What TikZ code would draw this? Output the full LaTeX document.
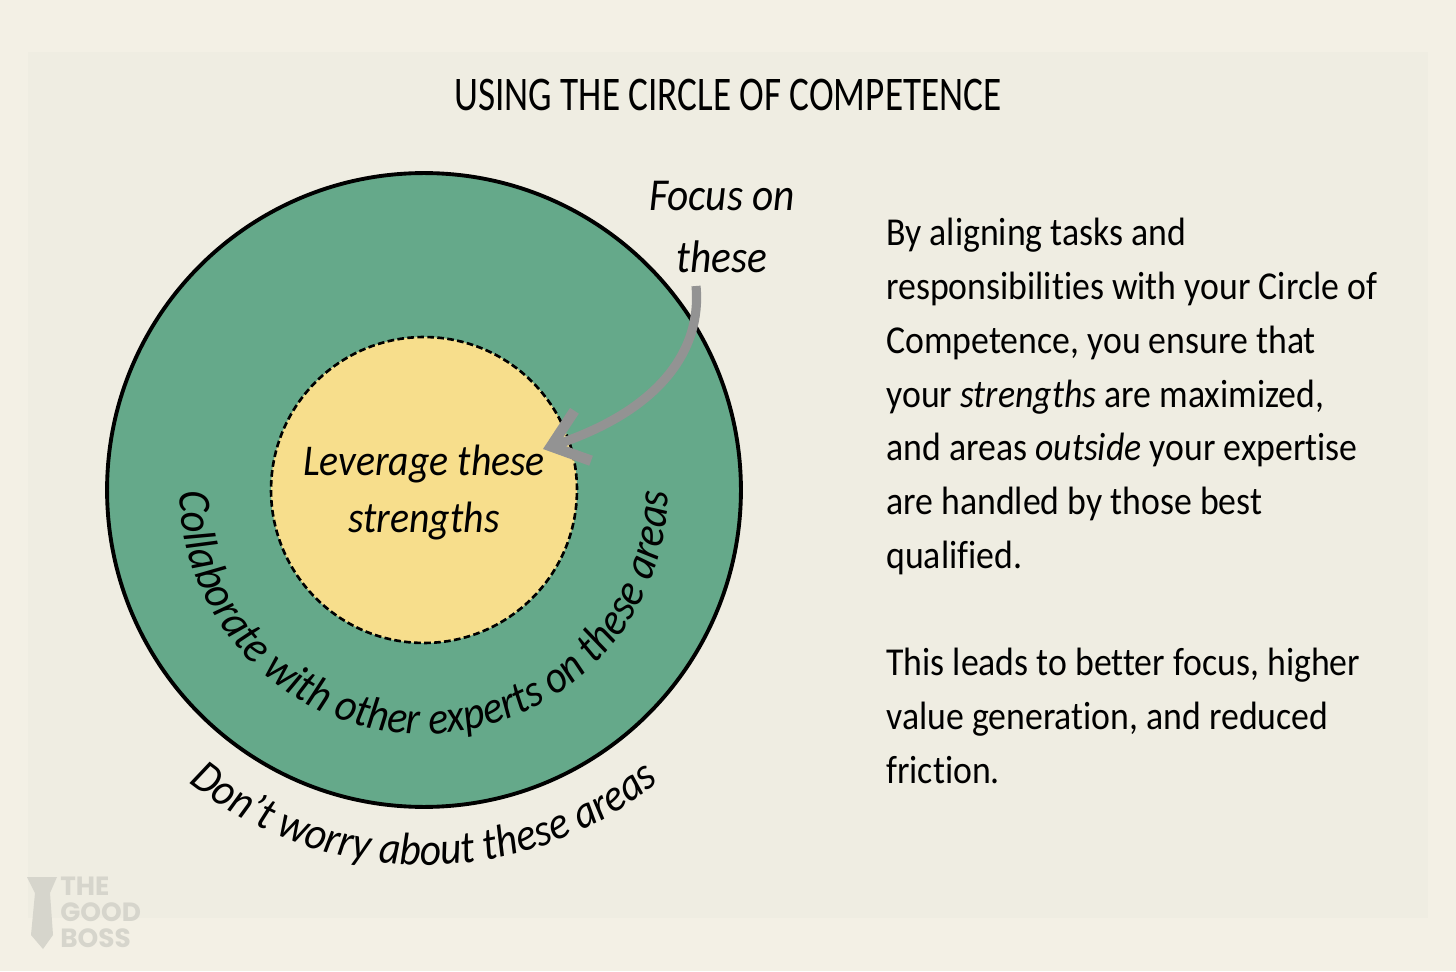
\documentclass[tikz,border=0pt]{standalone}
\usepackage{fontspec}
\setmainfont[FakeStretch=0.905,Ligatures=NoCommon]{Carlito}
\newfontfamily\titlefont[FakeStretch=0.77,Ligatures=NoCommon]{Carlito}
\newfontfamily\logofont{Poppins}
\usetikzlibrary{arrows.meta,positioning,decorations.text}
\definecolor{pagebg}{HTML}{F3F0E5}
\definecolor{panelbg}{HTML}{EFEDE2}
\definecolor{outerfill}{HTML}{65A98A}
\definecolor{innerfill}{HTML}{F7DE8C}
\definecolor{arrowgrey}{HTML}{939393}
\definecolor{logogrey}{HTML}{D6D5CC}
\newcommand{\bodyfont}{\fontsize{22.5}{30.6}\selectfont}
\newcommand{\labelfont}{\fontsize{26}{35}\selectfont\itshape}

\begin{document}
\begin{tikzpicture}[x=0.02cm,y=0.02cm,>=Latex,
  ring/.style={circle,draw=black,line width=2.2pt,minimum size=12.68cm,inner sep=0pt,fill=outerfill},
  corecircle/.style={circle,draw=black,line width=1.5pt,dash pattern=on 3.8pt off 1.9pt,minimum size=6.12cm,inner sep=0pt,fill=innerfill},
  tlabel/.style={font=\labelfont,align=center,text=black},
  bodytext/.style={font=\bodyfont,align=left,anchor=north west,inner sep=0pt}]
\useasboundingbox (0,0) rectangle (1456,971);
\fill[pagebg] (0,0) rectangle (1456,971);
\fill[panelbg] (28,53) rectangle (1428,919);
\node[font=\titlefont\fontsize{27.5}{33}\selectfont,inner sep=0pt] (title) at (728,876) {USING THE CIRCLE OF COMPETENCE};
\node[ring] (outer) at (424,481) {};
\node[corecircle] (core) at (424,481) {};
\node[font=\fontsize{25}{32.5}\selectfont\itshape,align=center,inner sep=0pt] (corelabel) at (424,478.5) {Leverage these\\strengths};
\node[tlabel] (focus) at (722,744) {Focus on\\these};
\path[decorate,decoration={text along path,text align=center,
  text={|\labelfont|Collaborate with other experts on these areas}}]
  (outer.center) ++(180:244) arc[start angle=180,end angle=360,radius=244];
\path[decorate,decoration={text along path,text align=center,
  text={|\labelfont|Don’t worry about these areas}}]
  (outer.center) ++(180:375) arc[start angle=180,end angle=360,radius=375];
\coordinate (arrowstart) at (696,685);
\coordinate (arrowend) at (543,522);
\draw[arrowgrey,line width=5.2pt,-{Straight Barb[length=19pt,width=30pt,line width=6pt]}] (arrowstart) .. controls (702,621) and (660,561) .. (arrowend);
\node[bodytext] (para1) at (886,753) {By aligning tasks and\\responsibilities with your Circle of\\Competence, you ensure that\\your \textit{strengths} are maximized,\\and areas \textit{outside} your expertise\\are handled by those best\\qualified.\\[30.6pt]This leads to better focus, higher\\value generation, and reduced\\friction.};
\fill[logogrey] (27,94) -- (57,94) -- (50,78) -- (53,36) -- (43,22) -- (31,36) -- (35,78) -- cycle;
\node[font=\logofont\bfseries\fontsize{15}{14.8}\selectfont,text=logogrey,align=left,anchor=north west,inner sep=0pt] (logo) at (60,94) {THE\\GOOD\\BOSS};
\end{tikzpicture}
\end{document}
